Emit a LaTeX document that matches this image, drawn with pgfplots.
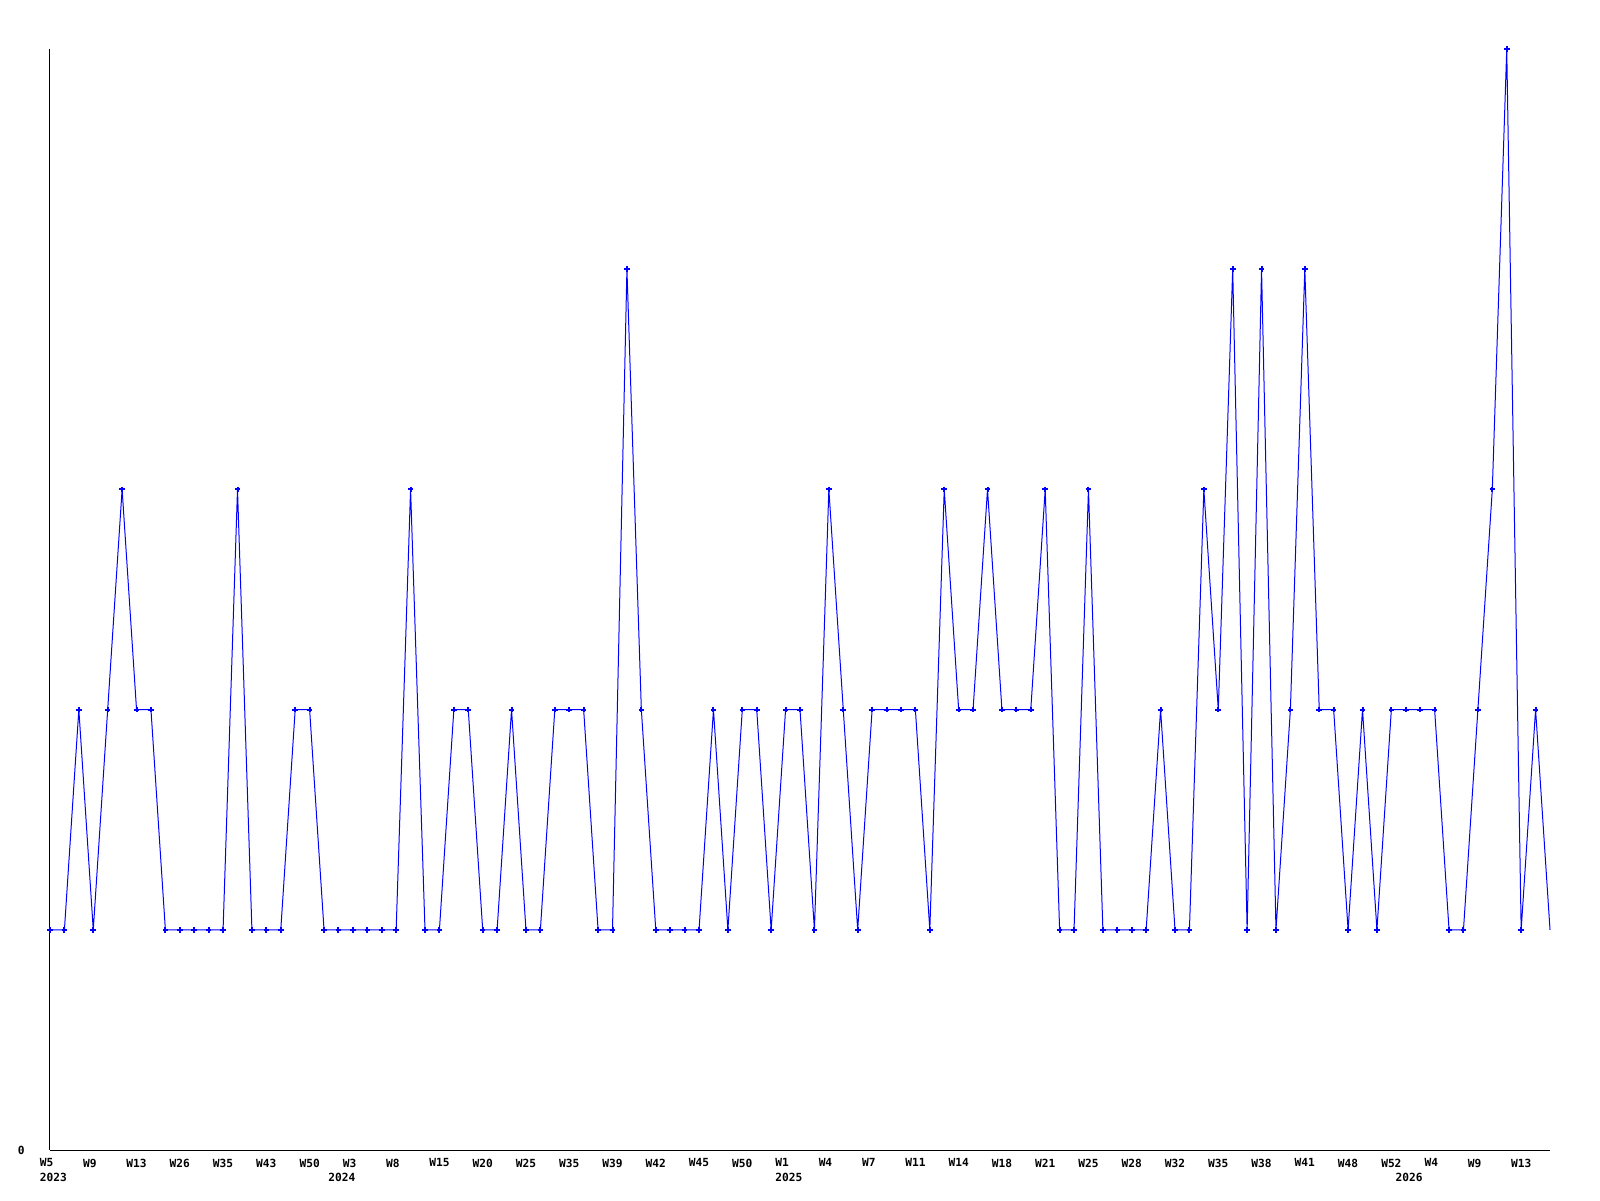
\documentclass[border=0pt]{standalone}
\usepackage{fontspec}
\usepackage{pgfplots}
\usepackage{pgfplotstable}
\pgfplotsset{compat=1.18}
\newfontfamily\lblfont{DejaVu Sans Mono}
\definecolor{lineblue}{RGB}{0,0,255}
\pgfplotstableread{
x y
0 1
1 1
2 2
3 1
4 2
5 3
6 2
7 2
8 1
9 1
10 1
11 1
12 1
13 3
14 1
15 1
16 1
17 2
18 2
19 1
20 1
21 1
22 1
23 1
24 1
25 3
26 1
27 1
28 2
29 2
30 1
31 1
32 2
33 1
34 1
35 2
36 2
37 2
38 1
39 1
40 4
41 2
42 1
43 1
44 1
45 1
46 2
47 1
48 2
49 2
50 1
51 2
52 2
53 1
54 3
55 2
56 1
57 2
58 2
59 2
60 2
61 1
62 3
63 2
64 2
65 3
66 2
67 2
68 2
69 3
70 1
71 1
72 3
73 1
74 1
75 1
76 1
77 2
78 1
79 1
80 3
81 2
82 4
83 1
84 4
85 1
86 2
87 4
88 2
89 2
90 1
91 2
92 1
93 2
94 2
95 2
96 2
97 1
98 1
99 2
100 3
101 5
102 1
103 2
104 1
}\datatable
\begin{document}
\begin{tikzpicture}
\path[use as bounding box] (0,0) rectangle (800pt,600pt);
\begin{axis}[
  at={(25pt,25pt)}, anchor=south west,
  scale only axis,
  width=750pt, height=550.5pt,
  xmin=0, xmax=104, ymin=0, ymax=5,
  axis x line*=bottom, axis y line*=left,
  axis line style={black, line width=0.5pt, -},
  clip=false,
  major tick length=0pt,
  xtick={0,3,...,102},
  xticklabels={W5,W9,W13,W26,W35,W43,W50,W3,W8,W15,W20,W25,W35,W39,W42,W45,W50,W1,W4,W7,W11,W14,W18,W21,W25,W28,W32,W35,W38,W41,W48,W52,W4,W9,W13},
  extra x ticks={0,20,51,94},
  extra x tick labels={2023,2024,2025,2026},
  extra x tick style={xticklabel style={yshift=-7pt}},
  ytick={0}, yticklabels={0},
  /pgf/number format/assume math mode=true,
  xticklabel style={anchor=north west, inner sep=0pt, xshift=-5.25pt, yshift=-4.2pt, font=\lblfont\bfseries\fontsize{5.6}{6}\selectfont},
  yticklabel style={anchor=east, inner sep=0pt, xshift=-12.5pt, font=\lblfont\bfseries\fontsize{5.6}{6}\selectfont},
]
\addplot[lineblue, line width=0.5pt, no marks] table[x=x,y=y] {\datatable};
\addplot[lineblue, only marks, mark=+, mark size=1.4pt, line width=1pt, restrict x to domain=0:103] table[x=x,y=y] {\datatable};
\end{axis}
\end{tikzpicture}
\end{document}
